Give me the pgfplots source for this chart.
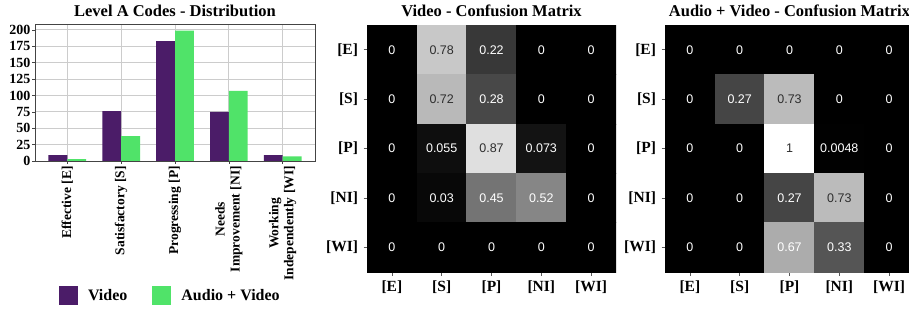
\documentclass[border=0pt]{standalone}
\usepackage{pgfplots}
\pgfplotsset{compat=1.18}
\usepackage{pgfplotstable}
\usepackage{fontspec}
\setmainfont{Liberation Serif}
\newfontfamily\annotfont{Liberation Sans}
\definecolor{vidc}{HTML}{4B1C68}
\definecolor{avc}{HTML}{50E369}
\definecolor{darktxt}{gray}{0.18}
\definecolor{framec}{HTML}{444444}
\definecolor{gridc}{HTML}{CCCCCC}

% Video confusion matrix (x = predicted, y = true; row 0 at top)
\pgfplotstableread{
x y v
0 0 0
1 0 0.78
2 0 0.22
3 0 0
4 0 0
0 1 0
1 1 0.72
2 1 0.28
3 1 0
4 1 0
0 2 0
1 2 0.055
2 2 0.87
3 2 0.073
4 2 0
0 3 0
1 3 0.03
2 3 0.45
3 3 0.52
4 3 0
0 4 0
1 4 0
2 4 0
3 4 0
4 4 0
}\videocm

% Audio + Video confusion matrix
\pgfplotstableread{
x y v
0 0 0
1 0 0
2 0 0
3 0 0
4 0 0
0 1 0
1 1 0.27
2 1 0.73
3 1 0
4 1 0
0 2 0
1 2 0
2 2 1
3 2 0.0048
4 2 0
0 3 0
1 3 0
2 3 0.27
3 3 0.73
4 3 0
0 4 0
1 4 0
2 4 0.67
3 4 0.33
4 4 0
}\avcm

\pgfplotsset{
  hm/.style={
    scale only axis, width=249pt, height=247pt,
    xmin=-0.5, xmax=4.5, ymin=-0.5, ymax=4.5, y dir=reverse,
    axis line style={draw=none},
    xtick={0,...,4}, ytick={0,...,4},
    xticklabels={{[E]},{[S]},{[P]},{[NI]},{[WI]}},
    yticklabels={{[E]},{[S]},{[P]},{[NI]},{[WI]}},
    tick align=outside, major tick length=3.5pt,
    tick style={color=gray!70!black, line width=0.8pt},
    xtick pos=left, ytick pos=left,
    ticklabel style={font=\bfseries\fontsize{15.5}{17}\selectfont},
    xticklabel style={yshift=-2pt},
    yticklabel style={xshift=-2pt},
    colormap={cmgray}{gray(0cm)=(0); gray(1cm)=(1)},
    point meta min=0, point meta max=1,
    every axis title/.style={at={(0.5,1)}, anchor=south, inner sep=0pt, yshift=8pt,
      font=\bfseries\fontsize{16.5}{18}\selectfont},
  },
  annotw/.style={draw=none, mark=none, point meta=explicit symbolic,
    nodes near coords,
    nodes near coords style={anchor=center, inner sep=0pt, text=white,
      font=\annotfont\fontsize{12.5}{14}\selectfont}},
  annotd/.style={annotw, nodes near coords style={text=darktxt}},
}

\begin{document}
\begin{tikzpicture}
\useasboundingbox (0,0) rectangle (909pt,310pt);

% ---------- Bar chart ----------
\begin{axis}[
  at={(35pt,149pt)}, anchor=south west,
  scale only axis, width=280pt, height=137pt,
  xmin=-0.6, xmax=4.6, ymin=0, ymax=209,
  ybar=0pt, bar width=0.35,
  xtick={0,...,4},
  xticklabels={{Effective [E]},{Satisfactory [S]},{Progressing [P]},{Needs\\Improvement [NI]},{Working\\Independently [WI]}},
  ytick={0,25,...,200},
  grid=major, grid style={gridc, line width=0.8pt},
  axis line style={framec, line width=0.9pt},
  tick style={framec, line width=0.6pt},
  tick align=outside, major tick length=3pt,
  xtick pos=left, ytick pos=left,
  /pgf/number format/assume math mode=true,
  yticklabel style={font=\bfseries\fontsize{14}{16}\selectfont, inner sep=1.5pt},
  xticklabel style={rotate=90, anchor=east, align=center, inner sep=2pt,
    font=\bfseries\fontsize{13.5}{15}\selectfont},
  title={Level A Codes - Distribution},
  every axis title/.style={at={(0.5,1)}, anchor=south, inner sep=0pt, yshift=7pt,
    font=\bfseries\fontsize{16.5}{18}\selectfont},
  legend columns=2,
  legend style={draw=none, fill=none, at={(0.085,-0.982)}, anchor=west, inner sep=0pt,
    font=\bfseries\fontsize{16}{18}\selectfont,
    /tikz/every odd column/.append style={column sep=8pt},
    /tikz/every even column/.append style={column sep=23pt}},
]
\addplot[fill=vidc, draw=none,
  legend image code/.code={\fill[vidc] (0pt,-9.5pt) rectangle (19pt,9.5pt);}]
  coordinates {(0,9) (1,76) (2,183) (3,75) (4,9)};
\addplot[fill=avc, draw=none,
  legend image code/.code={\fill[avc] (0pt,-9.5pt) rectangle (19pt,9.5pt);}]
  coordinates {(0,3) (1,38) (2,199) (3,107) (4,7)};
\legend{Video, Audio + Video}
\end{axis}

% ---------- Video confusion matrix ----------
\begin{axis}[hm, at={(367pt,38pt)}, anchor=south west, title={Video - Confusion Matrix}]
\addplot[matrix plot*, mesh/cols=5, point meta=explicit] table[x=x, y=y, meta=v]{\videocm};
\addplot[annotw] coordinates {
  (0,0)[0] (2,0)[0.22] (3,0)[0] (4,0)[0]
  (0,1)[0] (2,1)[0.28] (3,1)[0] (4,1)[0]
  (0,2)[0] (1,2)[0.055] (3,2)[0.073] (4,2)[0]
  (0,3)[0] (1,3)[0.03] (2,3)[0.45] (3,3)[0.52] (4,3)[0]
  (0,4)[0] (1,4)[0] (2,4)[0] (3,4)[0] (4,4)[0]};
\addplot[annotd] coordinates {(1,0)[0.78] (1,1)[0.72] (2,2)[0.87]};
\end{axis}

% ---------- Audio + Video confusion matrix ----------
\begin{axis}[hm, at={(665pt,38pt)}, anchor=south west, title={Audio + Video - Confusion Matrix}]
\addplot[matrix plot*, mesh/cols=5, point meta=explicit] table[x=x, y=y, meta=v]{\avcm};
\addplot[annotw] coordinates {
  (0,0)[0] (1,0)[0] (2,0)[0] (3,0)[0] (4,0)[0]
  (0,1)[0] (1,1)[0.27] (3,1)[0] (4,1)[0]
  (0,2)[0] (1,2)[0] (3,2)[0.0048] (4,2)[0]
  (0,3)[0] (1,3)[0] (2,3)[0.27] (4,3)[0]
  (0,4)[0] (1,4)[0] (2,4)[0.67] (3,4)[0.33] (4,4)[0]};
\addplot[annotd] coordinates {(2,1)[0.73] (2,2)[1] (3,3)[0.73]};
\end{axis}
\end{tikzpicture}
\end{document}
